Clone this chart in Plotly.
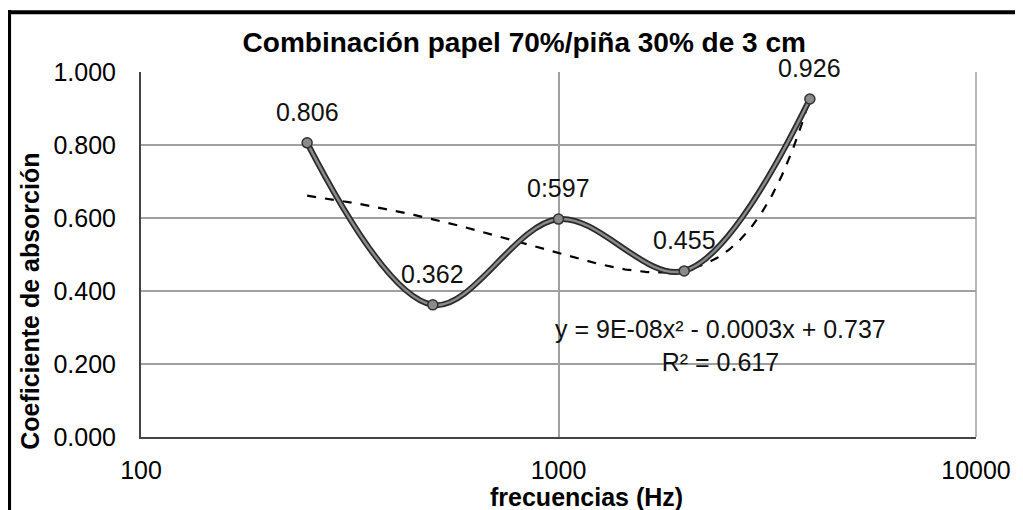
import numpy as np
import plotly.graph_objects as go

freqs = [250, 500, 1000, 2000, 4000]
absorcion = [0.806, 0.362, 0.597, 0.455, 0.926]
labels = ["0.806", "0.362", "0:597", "0.455", "0.926"]
y_ticks = [0.0, 0.2, 0.4, 0.6, 0.8, 1.0]
x_ticks = [100, 1000, 10000]

# polynomial (order 2) trendline, as in the spreadsheet
coef = np.polyfit(freqs, absorcion, 2)
xt = np.linspace(freqs[0], freqs[-1], 300)
yt = np.polyval(coef, xt)

FONT = "Liberation Sans, Arial, sans-serif"

fig = go.Figure()
fig.add_trace(go.Scatter(x=xt, y=yt, mode="lines",
                         line=dict(color="black", width=2.2, dash="dash"),
                         hoverinfo="skip", showlegend=False))
fig.add_trace(go.Scatter(x=freqs, y=absorcion, mode="lines",
                         line=dict(color="#2a2a2a", width=6, shape="spline", smoothing=1),
                         hoverinfo="skip", showlegend=False))
fig.add_trace(go.Scatter(x=freqs, y=absorcion, mode="lines+markers",
                         line=dict(color="#8a8a8a", width=2.5, shape="spline", smoothing=1),
                         marker=dict(size=10, color="#8a8a8a", line=dict(color="#333333", width=1.5)),
                         showlegend=False))

for f, v, t in zip(freqs, absorcion, labels):
    fig.add_annotation(x=np.log10(f), y=v, text=t, showarrow=False, yshift=31,
                       font=dict(family=FONT, size=25, color="#111111"))

fig.add_annotation(x=3.389, y=0.252, text="y = 9E-08x² - 0.0003x + 0.737<br>R² = 0.617",
                   showarrow=False, font=dict(family=FONT, size=25, color="#111111"), align="center")

fig.add_annotation(xref="paper", yref="paper", x=-0.133, y=0.373, text="<b>Coeficiente de absorción</b>",
                   textangle=-90, showarrow=False, font=dict(family=FONT, size=25, color="black"),
                   xanchor="center", yanchor="middle")

fig.add_annotation(xref="paper", yref="paper", x=0.533, y=-0.164, text="<b>frecuencias (Hz)</b>",
                   showarrow=False, font=dict(family=FONT, size=25, color="black"),
                   xanchor="center", yanchor="middle")

fig.update_layout(
    width=1015, height=502,
    margin=dict(l=133, r=47, t=64, b=73),
    paper_bgcolor="white", plot_bgcolor="white",
    font=dict(family=FONT, size=25, color="black"),
    title=dict(text="<b>Combinación papel 70%/piña 30% de 3 cm</b>", x=0.459, xref="paper", xanchor="center",
               y=0.932, yanchor="middle", font=dict(family=FONT, size=28, color="black")),
    shapes=[
        dict(type="line", xref="paper", yref="paper", x0=-0.158, x1=-0.158, y0=-0.25, y1=1.17,
             line=dict(color="black", width=4)),
        dict(type="line", xref="paper", yref="paper", x0=-0.16, x1=1.1, y0=1.164, y1=1.164,
             line=dict(color="black", width=4)),
        dict(type="line", xref="paper", yref="paper", x0=1, x1=1, y0=0, y1=1,
             line=dict(color="#a0a0a0", width=1.5)),
    ],
)
fig.update_xaxes(type="log", range=[2, 4], tickvals=x_ticks, ticktext=[str(v) for v in x_ticks],
                 showgrid=True, gridcolor="#a0a0a0", gridwidth=1.5,
                 showline=True, linecolor="#444444", linewidth=2,
                 ticks="", ticklabelstandoff=10, zeroline=False,
                 tickfont=dict(family=FONT, size=25))
fig.update_yaxes(range=[0, 1], tickvals=y_ticks, tickformat=".3f",
                 showgrid=True, gridcolor="#a0a0a0", gridwidth=1.5,
                 showline=True, linecolor="#444444", linewidth=2,
                 ticks="", ticklabelstandoff=18, zeroline=False,
                 tickfont=dict(family=FONT, size=25))

fig.write_html("out.html")
